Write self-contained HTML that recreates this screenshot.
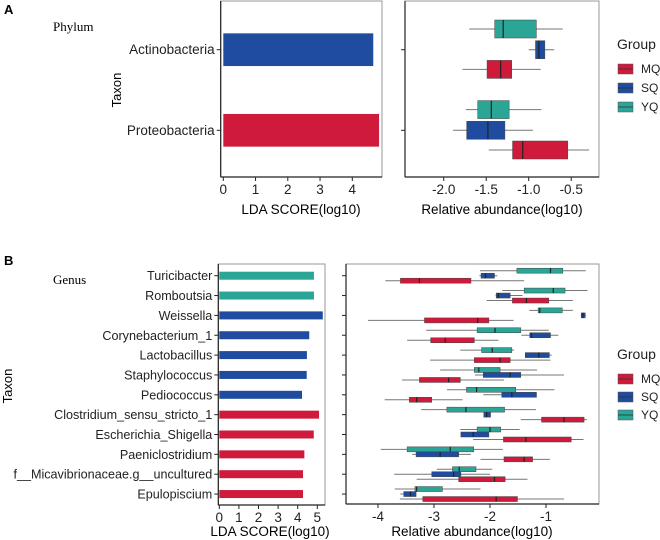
<!DOCTYPE html>
<html><head><meta charset="utf-8"><style>
body{margin:0;background:#fff}
svg{display:block;font-family:"Liberation Sans",sans-serif}
</style></head><body>
<svg id="c" width="660" height="540" viewBox="0 0 660 540"></svg>
<script>
const phyla=["Actinobacteria","Proteobacteria"];
const phylaLDA=[4.65,4.83];
const phylaGroup=["SQ","MQ"];
const genera=["Turicibacter","Romboutsia","Weissella","Corynebacterium_1","Lactobacillus","Staphylococcus","Pediococcus","Clostridium_sensu_stricto_1","Escherichia_Shigella","Paeniclostridium","f__Micavibrionaceae.g__uncultured","Epulopiscium"];
const generaLDA=[4.83,4.83,5.28,4.59,4.47,4.46,4.22,5.09,4.82,4.34,4.27,4.27];
const generaGroup=["YQ","YQ","SQ","SQ","SQ","SQ","SQ","MQ","MQ","MQ","MQ","MQ"];
const groups=["MQ","SQ","YQ"];
// box stats: [whiskerLow,q1,median,q3,whiskerHigh]
const phylaMQ=[[-1.78,-1.49,-1.33,-1.20,-0.86],[-1.47,-1.19,-1.07,-0.54,-0.29]];
const phylaSQ=[[-1.00,-0.92,-0.88,-0.81,-0.70],[-1.89,-1.73,-1.48,-1.28,-0.95]];
const phylaYQ=[[-1.70,-1.40,-1.30,-0.91,-0.60],[-1.74,-1.60,-1.44,-1.23,-0.85]];
const generaMQ=[[-3.87,-3.60,-3.26,-2.34,-1.39],[-2.06,-1.60,-1.35,-0.95,-0.52],[-4.18,-3.17,-2.22,-2.02,-1.58],[-3.48,-3.06,-2.80,-2.28,-1.85],[-3.07,-2.28,-1.82,-1.64,-0.92],[-3.57,-3.26,-2.74,-2.53,-1.75],[-3.88,-3.44,-3.31,-3.04,-2.49],[-1.45,-1.08,-0.68,-0.32,-0.27],[-2.30,-1.76,-1.36,-0.55,-0.33],[-2.17,-1.75,-1.39,-1.24,-0.93],[-3.31,-2.56,-1.92,-1.73,-1.33],[-3.61,-3.20,-1.89,-1.51,-0.68]];
const generaSQ=[[-2.19,-2.16,-2.08,-1.92,-1.87],[-1.90,-1.89,-1.85,-1.64,-1.42],[-0.38,-0.37,-0.34,-0.30,-0.29],[-1.44,-1.29,-1.26,-0.92,-0.78],[-1.37,-1.37,-1.13,-0.94,-0.90],[-2.27,-2.12,-1.64,-1.45,-0.68],[-2.12,-1.79,-1.61,-1.17,-1.17],[-2.11,-2.11,-2.06,-1.99,-1.99],[-2.52,-2.52,-2.30,-2.02,-2.02],[-3.39,-3.32,-2.89,-2.56,-2.34],[-3.71,-3.04,-2.65,-2.52,-2.00],[-3.60,-3.54,-3.42,-3.32,-3.32]];
const generaYQ=[[-2.18,-1.52,-0.92,-0.70,-0.29],[-1.78,-1.39,-0.87,-0.66,-0.26],[-1.30,-1.14,-1.11,-0.71,-0.52],[-3.14,-2.23,-1.91,-1.45,-0.95],[-2.53,-2.15,-1.96,-1.61,-1.57],[-2.89,-2.28,-2.20,-1.82,-1.16],[-2.77,-2.42,-2.24,-1.54,-0.85],[-3.23,-2.77,-2.43,-1.74,-1.18],[-2.53,-2.23,-2.00,-1.81,-1.47],[-3.95,-3.48,-2.71,-2.29,-1.77],[-2.95,-2.67,-2.55,-2.25,-1.96],[-3.70,-3.34,-3.31,-2.85,-2.17]];
const ldaTicksA=[0,1,2,3,4];
const ldaTicksB=[0,1,2,3,4,5];
const absTicksA=[-2.0,-1.5,-1.0,-0.5];
const absTicksB=[-4,-3,-2,-1];

const col={MQ:"#cf1a3b",SQ:"#1f4c9f",YQ:"#2aa596"};
const svg=document.getElementById('c');
const NS="http://www.w3.org/2000/svg";
function el(t,a,txt){const e=document.createElementNS(NS,t);for(const k in a)e.setAttribute(k,a[k]);if(txt!==undefined)e.textContent=txt;svg.appendChild(e);return e;}

const xA=v=>223.3+v*32.25;
const yA=i=>49.7+i*80.6;
const xAr=v=>443.7+(v+2)*85;
const xB=v=>219.3+v*19.6;
const yB=i=>275.7+i*19.85;
const xBr=v=>378+(v+4)*56;

let e;
e=el('text',{x:4,y:14,'font-size':13,'font-weight':'bold'},'A');
e=el('text',{x:4,y:265,'font-size':13,'font-weight':'bold'},'B');
e=el('text',{x:53,y:31,'font-size':13,'font-family':'Liberation Serif,serif'},'Phylum');
e=el('text',{x:53,y:284,'font-size':13,'font-family':'Liberation Serif,serif'},'Genus');
e=el('text',{x:121,y:90,'font-size':13,transform:'rotate(-90 121 90)','text-anchor':'middle'},'Taxon');
e=el('text',{x:12,y:386,'font-size':13,transform:'rotate(-90 12 386)','text-anchor':'middle'},'Taxon');

function frame(x1,y1,x2,y2,name){
  e=el('rect',{x:x1,y:y1,width:x2-x1,height:y2-y1,fill:'none',stroke:'#999','stroke-width':1});
  el('line',{x1:x1,y1:y1,x2:x1,y2:y2,stroke:'#222','stroke-width':1.2});
  el('line',{x1:x1,y1:y2,x2:x2,y2:y2,stroke:'#222','stroke-width':1.2});
}
frame(220.7,1,382,177,'lda-plot-a');
frame(405,1,599,177,'abundance-plot-a');
frame(218.3,264,325,505,'lda-plot-b');
frame(346,264,599,504,'abundance-plot-b');

function xticks(ticks,sx,yb,name,fmt){
  ticks.forEach(t=>{const x=sx(t);
    el('line',{x1:x,y1:yb,x2:x,y2:yb+4,stroke:'#222'});
    e=el('text',{x:x,y:yb+17,'font-size':13.5,'text-anchor':'middle',fill:'#222'},fmt(t));
    
  });
}
xticks(ldaTicksA,xA,177,'lda-tick-a',t=>String(t));
xticks(absTicksA,xAr,177,'abundance-tick-a',t=>t.toFixed(1));
xticks(ldaTicksB,xB,505,'lda-tick-b',t=>String(t));
xticks(absTicksB,xBr,504,'abundance-tick-b',t=>String(t));
e=el('text',{x:301,y:214,'font-size':13.5,'text-anchor':'middle'},'LDA SCORE(log10)');
e=el('text',{x:502,y:214,'font-size':13.5,'text-anchor':'middle'},'Relative abundance(log10)');
e=el('text',{x:270,y:536,'font-size':13.5,'text-anchor':'middle'},'LDA SCORE(log10)');
e=el('text',{x:472,y:536,'font-size':13.5,'text-anchor':'middle'},'Relative abundance(log10)');

function bars(cats,vals,grp,sx,sy,x0,h,fs,xr){
  cats.forEach((c,i)=>{const y=sy(i);
    el('line',{x1:x0-4,y1:y,x2:x0,y2:y,stroke:'#222'});
    el('line',{x1:xr-4,y1:y,x2:xr,y2:y,stroke:'#222'});
    e=el('text',{x:x0-6,y:y+4.5,'font-size':fs,'text-anchor':'end',fill:'#222'},c);
    
    e=el('rect',{x:sx(0),y:y-h/2,width:sx(vals[i])-sx(0),height:h,fill:col[grp[i]]});
    
  });
}
bars(phyla,phylaLDA,phylaGroup,xA,yA,220.7,32.7,13.5,405);
bars(genera,generaLDA,generaGroup,xB,yB,218.3,8,12.6,346);

function boxes(stats,g,sx,sy,off,h){
  stats.forEach((s,i)=>{const y=sy(i)+off;
    el('line',{x1:sx(s[0]),y1:y,x2:sx(s[4]),y2:y,stroke:'#777','stroke-width':1});
    e=el('rect',{x:sx(s[1]),y:y-h/2,width:Math.max(1,sx(s[3])-sx(s[1])),height:h,fill:col[g],stroke:'#444','stroke-width':0.5});
    
    el('line',{x1:sx(s[2]),y1:y-h/2,x2:sx(s[2]),y2:y+h/2,stroke:'#222','stroke-width':1.2});
  });
}
boxes(phylaYQ,'YQ',xAr,yA,-20.7,18);
boxes(phylaSQ,'SQ',xAr,yA,0,18);
boxes(phylaMQ,'MQ',xAr,yA,19.7,18);
boxes(generaYQ,'YQ',xBr,yB,-5,5);
boxes(generaSQ,'SQ',xBr,yB,0,5);
boxes(generaMQ,'MQ',xBr,yB,5,5);

function legend(x,y,dy,name){
  e=el('text',{x:x,y:y,'font-size':14,fill:'#222'},'Group');
  groups.forEach((g,i)=>{const yy=y+20+i*dy;
    e=el('rect',{x:x+1,y:yy-5,width:15,height:10,fill:col[g],stroke:'#555','stroke-width':0.5});
    
    el('line',{x1:x+1,y1:yy,x2:x+16,y2:yy,stroke:'#333','stroke-width':0.8});
    el('text',{x:x+24,y:yy+4,'font-size':12,fill:'#222'},g);
  });
}
legend(617,49,19,'legend-a');
legend(617,359,18,'legend-b');
</script>
</body></html>
